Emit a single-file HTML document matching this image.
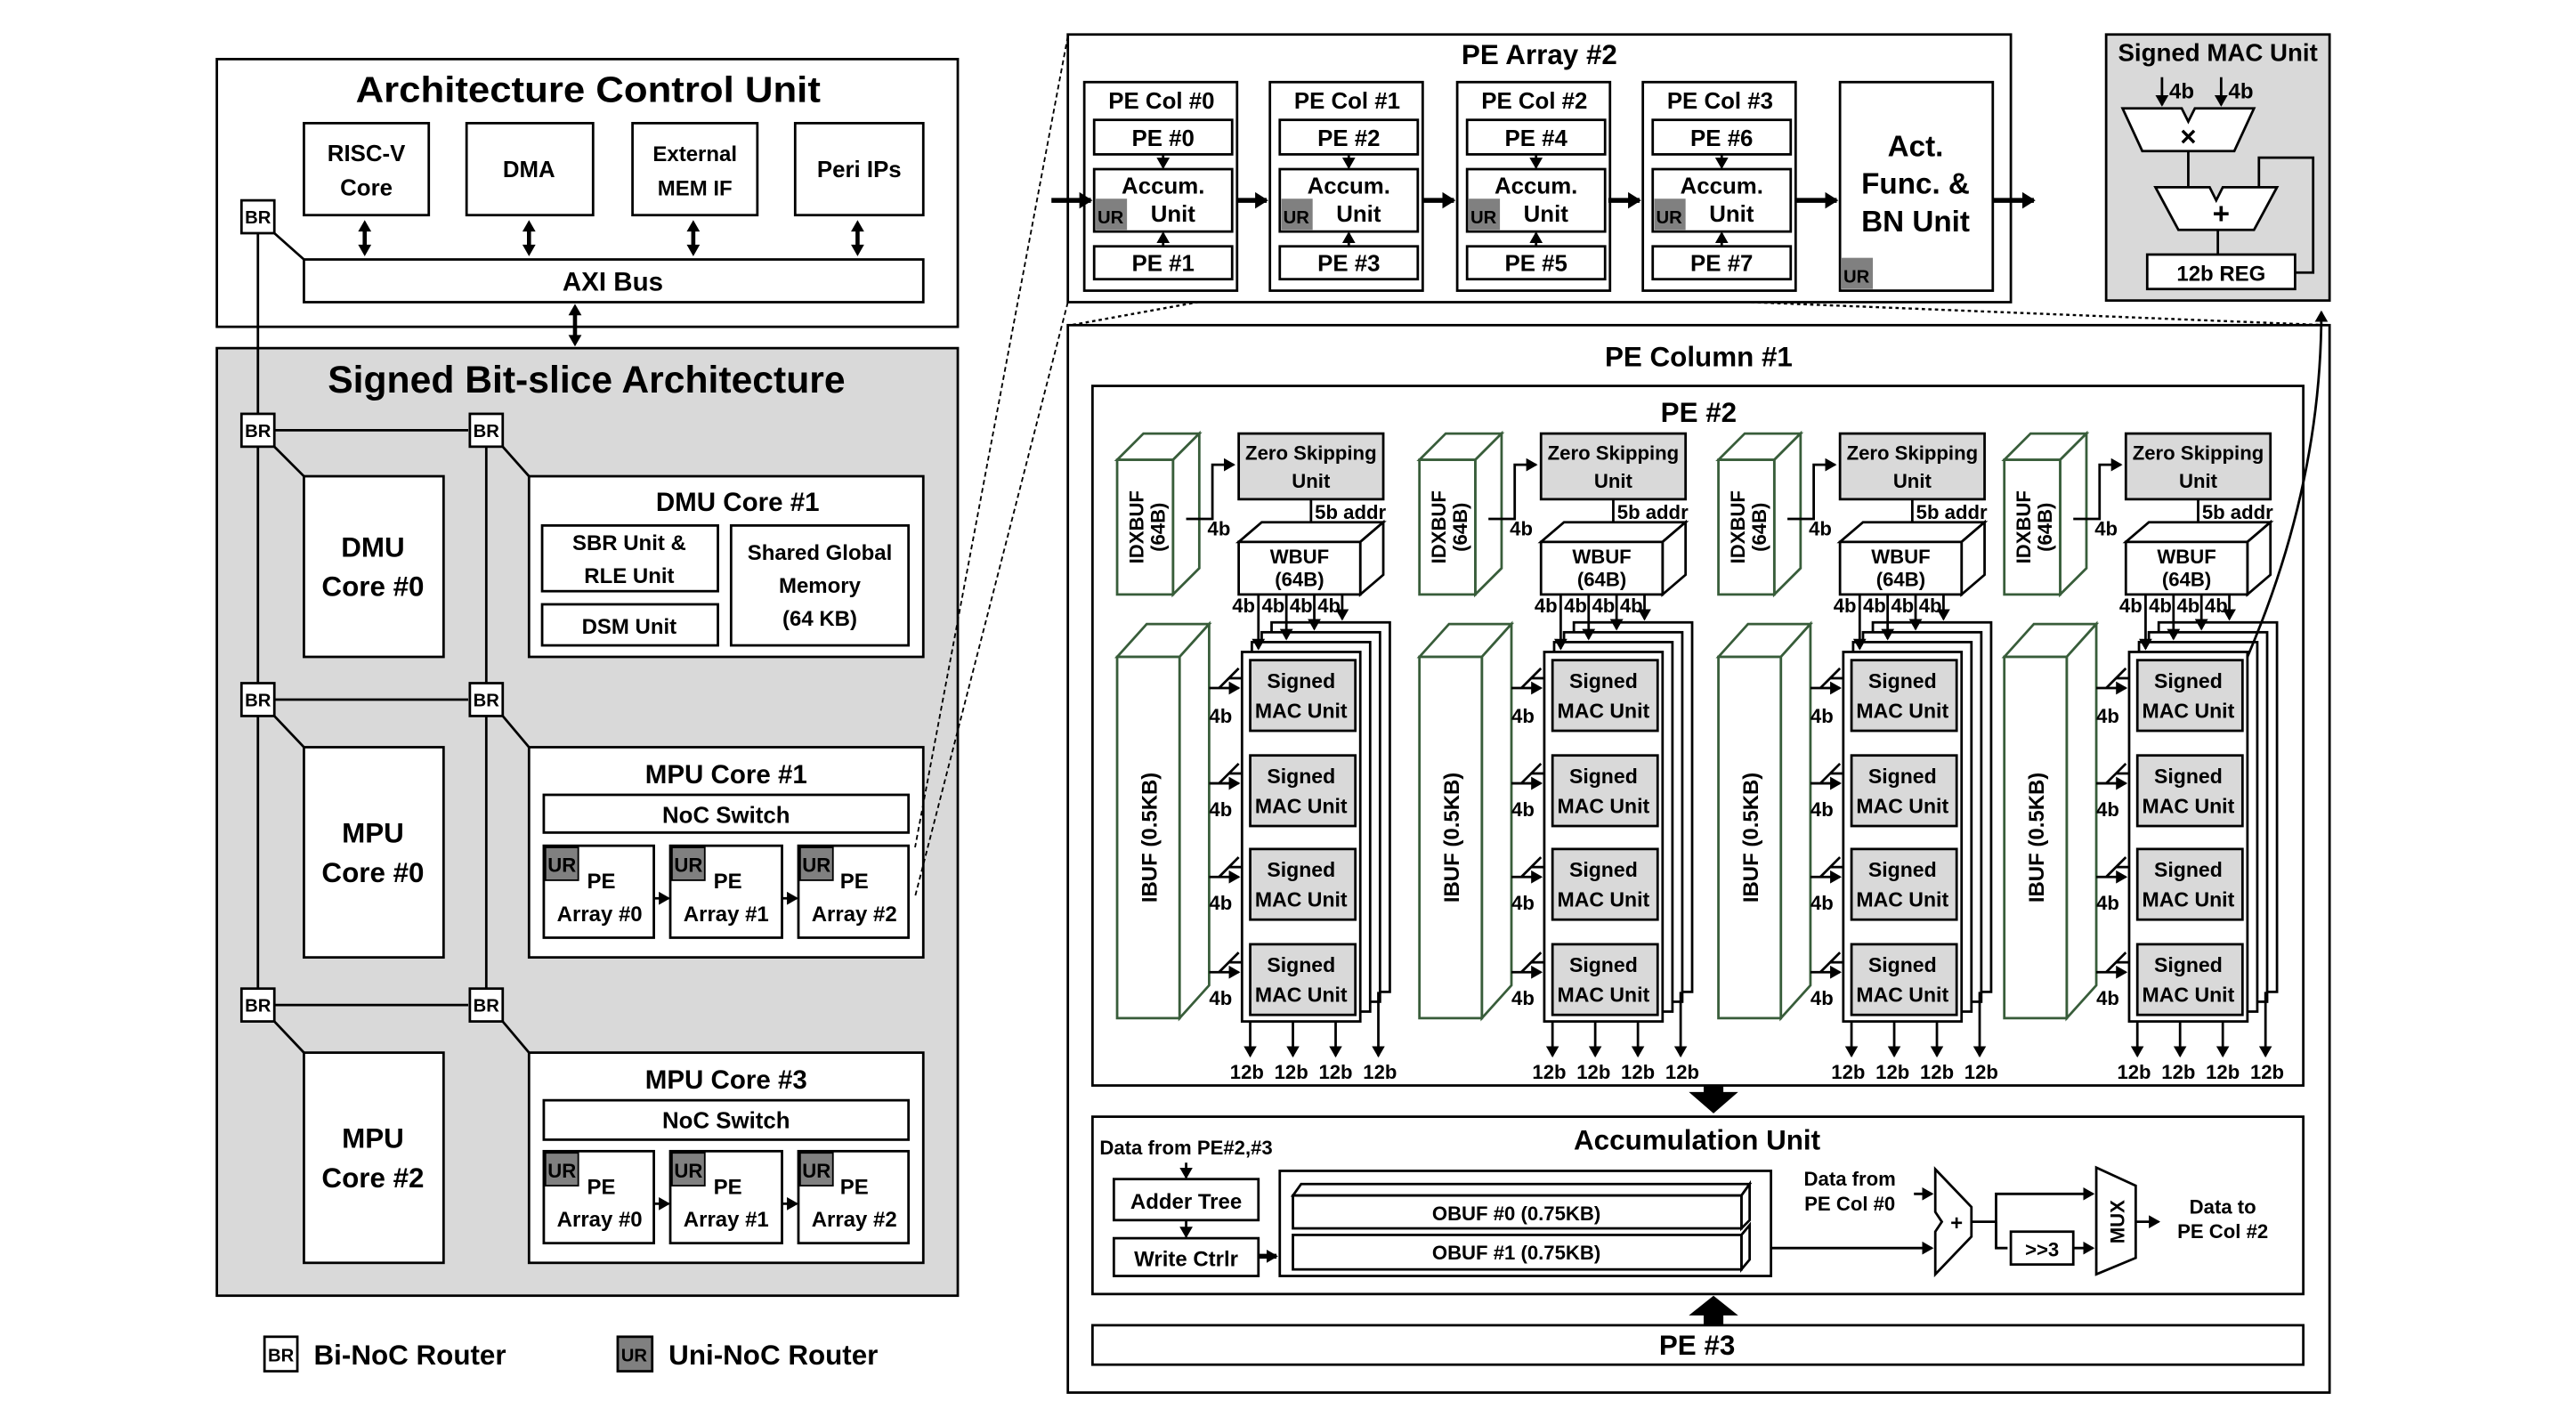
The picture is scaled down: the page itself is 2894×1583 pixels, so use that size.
<!DOCTYPE html>
<html><head><meta charset="utf-8">
<style>
html,body{margin:0;padding:0;background:#fff;}
svg{display:block;}
text{font-family:"Liberation Sans",sans-serif;font-weight:bold;text-anchor:middle;fill:#000;}
.s{stroke:#000;stroke-width:1.5;fill:#fff;}
.g{stroke:#000;stroke-width:1.5;fill:#d9d9d9;}
.gr{stroke:#385d3a;stroke-width:1.5;fill:#fff;}
.l{stroke:#000;stroke-width:1.5;fill:none;}
.th{stroke:#000;stroke-width:3;fill:none;}
</style></head><body>
<svg width="2894" height="1583" viewBox="0 0 1568 858" preserveAspectRatio="none" xmlns="http://www.w3.org/2000/svg">
<defs>
<marker id="a" markerWidth="8" markerHeight="8" refX="6" refY="4" orient="auto" markerUnits="userSpaceOnUse"><path d="M0,0 L7,4 L0,8 z" fill="#000"/></marker>
<marker id="ab" markerWidth="10" markerHeight="10" refX="7" refY="5" orient="auto-start-reverse" markerUnits="userSpaceOnUse"><path d="M0,0 L8,5 L0,10 z" fill="#000"/></marker>
</defs>
<rect width="1568" height="858" fill="#fff"/>

<!-- ACU -->
<rect x="132" y="36" width="451" height="163" class="s"/>
<text x="358" y="62" font-size="22" textLength="283" lengthAdjust="spacingAndGlyphs">Architecture Control Unit</text>
<rect x="185" y="75" width="76" height="56" class="s"/><text x="223" y="98" font-size="14">RISC-V</text><text x="223" y="119" font-size="14">Core</text>
<rect x="284" y="75" width="77" height="56" class="s"/><text x="322" y="108" font-size="14">DMA</text>
<rect x="385" y="75" width="76" height="56" class="s"/><text x="423" y="98" font-size="13">External</text><text x="423" y="119" font-size="13">MEM IF</text>
<rect x="484" y="75" width="78" height="56" class="s"/><text x="523" y="108" font-size="14">Peri IPs</text>
<g fill="#000" stroke="#000" stroke-width="2.5">
<line x1="222" y1="140" x2="222" y2="150"/><path d="M218,141 L222,134 L226,141 z M218,149 L222,156 L226,149 z" stroke-width="0"/>
<line x1="322" y1="140" x2="322" y2="150"/><path d="M318,141 L322,134 L326,141 z M318,149 L322,156 L326,149 z" stroke-width="0"/>
<line x1="422" y1="140" x2="422" y2="150"/><path d="M418,141 L422,134 L426,141 z M418,149 L422,156 L426,149 z" stroke-width="0"/>
<line x1="522" y1="140" x2="522" y2="150"/><path d="M518,141 L522,134 L526,141 z M518,149 L522,156 L526,149 z" stroke-width="0"/>
<line x1="350" y1="191" x2="350" y2="205"/><path d="M346,192 L350,185 L354,192 z M346,204 L350,211 L354,204 z" stroke-width="0"/>
</g>
<rect x="185" y="158" width="377" height="26" class="s"/><text x="373" y="177" font-size="16">AXI Bus</text>

<!-- SBA -->
<rect x="132" y="212" width="451" height="577" class="g"/>
<text x="357" y="239" font-size="23" textLength="315" lengthAdjust="spacingAndGlyphs">Signed Bit-slice Architecture</text>
<g class="l">
<line x1="157" y1="142" x2="157" y2="602"/>
<line x1="296" y1="272" x2="296" y2="602"/>
<line x1="167" y1="262" x2="285" y2="262"/>
<line x1="167" y1="426" x2="285" y2="426"/>
<line x1="167" y1="612" x2="285" y2="612"/>
<line x1="167" y1="142" x2="185" y2="158"/>
<line x1="167" y1="272" x2="185" y2="290"/>
<line x1="306" y1="272" x2="322" y2="290"/>
<line x1="167" y1="436" x2="185" y2="455"/>
<line x1="306" y1="436" x2="322" y2="455"/>
<line x1="167" y1="622" x2="185" y2="641"/>
<line x1="306" y1="622" x2="322" y2="641"/>
</g>
<g font-size="11">
<rect x="147" y="122" width="20" height="20" class="s"/><text x="157" y="136">BR</text>
<rect x="147" y="252" width="20" height="20" class="s"/><text x="157" y="266">BR</text>
<rect x="286" y="252" width="20" height="20" class="s"/><text x="296" y="266">BR</text>
<rect x="147" y="416" width="20" height="20" class="s"/><text x="157" y="430">BR</text>
<rect x="286" y="416" width="20" height="20" class="s"/><text x="296" y="430">BR</text>
<rect x="147" y="602" width="20" height="20" class="s"/><text x="157" y="616">BR</text>
<rect x="286" y="602" width="20" height="20" class="s"/><text x="296" y="616">BR</text>
</g>
<rect x="185" y="290" width="85" height="110" class="s"/><text x="227" y="339" font-size="17">DMU</text><text x="227" y="363" font-size="17">Core #0</text>
<rect x="185" y="455" width="85" height="128" class="s"/><text x="227" y="513" font-size="17">MPU</text><text x="227" y="537" font-size="17">Core #0</text>
<rect x="185" y="641" width="85" height="128" class="s"/><text x="227" y="699" font-size="17">MPU</text><text x="227" y="723" font-size="17">Core #2</text>

<rect x="322" y="290" width="240" height="110" class="s"/><text x="449" y="311" font-size="16">DMU Core #1</text>
<rect x="330" y="320" width="107" height="40" class="s"/><text x="383" y="335" font-size="13">SBR Unit &amp;</text><text x="383" y="355" font-size="13">RLE Unit</text>
<rect x="330" y="368" width="107" height="25" class="s"/><text x="383" y="386" font-size="13">DSM Unit</text>
<rect x="445" y="320" width="108" height="73" class="s"/><text x="499" y="341" font-size="13">Shared Global</text><text x="499" y="361" font-size="13">Memory</text><text x="499" y="381" font-size="13">(64 KB)</text>

<rect x="322" y="455" width="240" height="128" class="s"/><text x="442" y="477" font-size="16">MPU Core #1</text>
<rect x="331" y="484" width="222" height="23" class="s"/><text x="442" y="501" font-size="14">NoC Switch</text>
<rect x="322" y="641" width="240" height="128" class="s"/><text x="442" y="663" font-size="16">MPU Core #3</text>
<rect x="331" y="670" width="222" height="24" class="s"/><text x="442" y="687" font-size="14">NoC Switch</text>

<g id="pea">
<rect x="331" y="515" width="67" height="56" class="s"/><rect x="332" y="516" width="20" height="20" fill="#808080" stroke="#000"/><text x="342" y="531" font-size="12">UR</text>
<text x="366" y="541" font-size="13">PE</text><text x="365" y="561" font-size="13">Array #0</text>
<rect x="408" y="515" width="68" height="56" class="s"/><rect x="409" y="516" width="20" height="20" fill="#808080" stroke="#000"/><text x="419" y="531" font-size="12">UR</text>
<text x="443" y="541" font-size="13">PE</text><text x="442" y="561" font-size="13">Array #1</text>
<rect x="486" y="515" width="67" height="56" class="s"/><rect x="487" y="516" width="20" height="20" fill="#808080" stroke="#000"/><text x="497" y="531" font-size="12">UR</text>
<text x="520" y="541" font-size="13">PE</text><text x="520" y="561" font-size="13">Array #2</text>
<line x1="398" y1="547" x2="407" y2="547" class="l" marker-end="url(#a)"/>
<line x1="476" y1="547" x2="485" y2="547" class="l" marker-end="url(#a)"/>
</g>
<g transform="translate(0,186)">
<rect x="331" y="515" width="67" height="56" class="s"/><rect x="332" y="516" width="20" height="20" fill="#808080" stroke="#000"/><text x="342" y="531" font-size="12">UR</text>
<text x="366" y="541" font-size="13">PE</text><text x="365" y="561" font-size="13">Array #0</text>
<rect x="408" y="515" width="68" height="56" class="s"/><rect x="409" y="516" width="20" height="20" fill="#808080" stroke="#000"/><text x="419" y="531" font-size="12">UR</text>
<text x="443" y="541" font-size="13">PE</text><text x="442" y="561" font-size="13">Array #1</text>
<rect x="486" y="515" width="67" height="56" class="s"/><rect x="487" y="516" width="20" height="20" fill="#808080" stroke="#000"/><text x="497" y="531" font-size="12">UR</text>
<text x="520" y="541" font-size="13">PE</text><text x="520" y="561" font-size="13">Array #2</text>
<line x1="398" y1="547" x2="407" y2="547" class="l" marker-end="url(#a)"/>
<line x1="476" y1="547" x2="485" y2="547" class="l" marker-end="url(#a)"/>
</g>

<!-- Legend -->
<rect x="161" y="814" width="20" height="21" class="s"/><text x="171" y="829" font-size="11">BR</text>
<text x="191" y="831" font-size="17" style="text-anchor:start">Bi-NoC Router</text>
<rect x="376" y="814" width="21" height="21" fill="#808080" stroke="#000" stroke-width="1.5"/><text x="386" y="829" font-size="11">UR</text>
<text x="407" y="831" font-size="17" style="text-anchor:start">Uni-NoC Router</text>

<!-- dashed zoom lines -->
<g stroke="#000" stroke-width="1" stroke-dasharray="3,2" fill="none">
<line x1="650" y1="22" x2="557" y2="516"/>
<line x1="650" y1="184" x2="557" y2="546"/>
</g>
<g stroke="#000" stroke-width="1.3" stroke-dasharray="2,2" fill="none">
<line x1="773" y1="176" x2="652" y2="198"/>
<line x1="866" y1="176" x2="1416" y2="198"/>
</g>

<!-- PE Array #2 -->
<rect x="650" y="21" width="574" height="163" class="s"/>
<text x="937" y="39" font-size="17">PE Array #2</text>
<g>
<rect x="660" y="50" width="93" height="127" class="s"/>
<text x="707" y="66" font-size="14">PE Col #0</text>
<rect x="666" y="73" width="84" height="21" class="s"/><text x="708" y="89" font-size="14">PE #0</text>
<rect x="666" y="103" width="84" height="38" class="s"/><text x="708" y="118" font-size="14">Accum.</text>
<rect x="667" y="121" width="19" height="19" fill="#808080"/><text x="676" y="136" font-size="11">UR</text><text x="714" y="135" font-size="14">Unit</text>
<rect x="666" y="150" width="84" height="20" class="s"/><text x="708" y="165" font-size="14">PE #1</text>
<line x1="708" y1="94" x2="708" y2="102" class="l" marker-end="url(#a)"/>
<line x1="708" y1="150" x2="708" y2="142" class="l" marker-end="url(#a)"/>
</g>
<g transform="translate(113,0)">
<rect x="660" y="50" width="93" height="127" class="s"/>
<text x="707" y="66" font-size="14">PE Col #1</text>
<rect x="666" y="73" width="84" height="21" class="s"/><text x="708" y="89" font-size="14">PE #2</text>
<rect x="666" y="103" width="84" height="38" class="s"/><text x="708" y="118" font-size="14">Accum.</text>
<rect x="667" y="121" width="19" height="19" fill="#808080"/><text x="676" y="136" font-size="11">UR</text><text x="714" y="135" font-size="14">Unit</text>
<rect x="666" y="150" width="84" height="20" class="s"/><text x="708" y="165" font-size="14">PE #3</text>
<line x1="708" y1="94" x2="708" y2="102" class="l" marker-end="url(#a)"/>
<line x1="708" y1="150" x2="708" y2="142" class="l" marker-end="url(#a)"/>
</g>
<g transform="translate(227,0)">
<rect x="660" y="50" width="93" height="127" class="s"/>
<text x="707" y="66" font-size="14">PE Col #2</text>
<rect x="666" y="73" width="84" height="21" class="s"/><text x="708" y="89" font-size="14">PE #4</text>
<rect x="666" y="103" width="84" height="38" class="s"/><text x="708" y="118" font-size="14">Accum.</text>
<rect x="667" y="121" width="19" height="19" fill="#808080"/><text x="676" y="136" font-size="11">UR</text><text x="714" y="135" font-size="14">Unit</text>
<rect x="666" y="150" width="84" height="20" class="s"/><text x="708" y="165" font-size="14">PE #5</text>
<line x1="708" y1="94" x2="708" y2="102" class="l" marker-end="url(#a)"/>
<line x1="708" y1="150" x2="708" y2="142" class="l" marker-end="url(#a)"/>
</g>
<g transform="translate(340,0)">
<rect x="660" y="50" width="93" height="127" class="s"/>
<text x="707" y="66" font-size="14">PE Col #3</text>
<rect x="666" y="73" width="84" height="21" class="s"/><text x="708" y="89" font-size="14">PE #6</text>
<rect x="666" y="103" width="84" height="38" class="s"/><text x="708" y="118" font-size="14">Accum.</text>
<rect x="667" y="121" width="19" height="19" fill="#808080"/><text x="676" y="136" font-size="11">UR</text><text x="714" y="135" font-size="14">Unit</text>
<rect x="666" y="150" width="84" height="20" class="s"/><text x="708" y="165" font-size="14">PE #7</text>
<line x1="708" y1="94" x2="708" y2="102" class="l" marker-end="url(#a)"/>
<line x1="708" y1="150" x2="708" y2="142" class="l" marker-end="url(#a)"/>
</g>
<rect x="1120" y="50" width="93" height="127" class="s"/>
<text x="1166" y="95" font-size="18">Act.</text><text x="1166" y="118" font-size="18">Func. &amp;</text><text x="1166" y="141" font-size="18">BN Unit</text>
<rect x="1121" y="157" width="19" height="19" fill="#808080"/><text x="1130" y="172" font-size="11">UR</text>
<g class="th">
<line x1="640" y1="122" x2="664" y2="122" marker-end="url(#ab)"/>
<line x1="753" y1="122" x2="771" y2="122" marker-end="url(#ab)"/>
<line x1="866" y1="122" x2="885" y2="122" marker-end="url(#ab)"/>
<line x1="979" y1="122" x2="998" y2="122" marker-end="url(#ab)"/>
<line x1="1093" y1="122" x2="1118" y2="122" marker-end="url(#ab)"/>
<line x1="1213" y1="122" x2="1238" y2="122" marker-end="url(#ab)"/>
</g>

<!-- Signed MAC Unit -->
<rect x="1282" y="21" width="136" height="162" class="g"/>
<text x="1350" y="37" font-size="15">Signed MAC Unit</text>
<line x1="1316" y1="47" x2="1316" y2="64" class="l" marker-end="url(#a)"/><text x="1328" y="60" font-size="13">4b</text>
<line x1="1352" y1="47" x2="1352" y2="64" class="l" marker-end="url(#a)"/><text x="1364" y="60" font-size="13">4b</text>
<polygon points="1292,66 1328,66 1332,74 1336,66 1372,66 1360,92 1304,92" class="s"/>
<text x="1332" y="89" font-size="17">×</text>
<line x1="1332" y1="92" x2="1332" y2="114" class="l"/>
<polygon points="1312,114 1345,114 1349,122 1353,114 1386,114 1372,140 1326,140" class="s"/>
<text x="1352" y="136" font-size="18">+</text>
<line x1="1350" y1="140" x2="1350" y2="155" class="l"/>
<rect x="1307" y="155" width="90" height="21" class="s"/><text x="1352" y="171" font-size="13">12b REG</text>
<polyline points="1397,166 1408,166 1408,96 1375,96 1375,114" class="l" stroke-width="2"/>

<!-- PE Column #1 -->
<rect x="650" y="198" width="768" height="650" class="s"/>
<text x="1034" y="223" font-size="17">PE Column #1</text>
<rect x="665" y="235" width="737" height="426" class="s"/>
<text x="1034" y="257" font-size="17">PE #2</text>

<g id="grp">
<polygon points="680,280 696,264 730,264 714,280" class="gr"/>
<polygon points="714,280 730,264 730,346 714,362" class="gr"/>
<rect x="680" y="280" width="34" height="82" class="gr"/>
<text transform="translate(696,321) rotate(-90)" font-size="12">IDXBUF</text>
<text transform="translate(709,321) rotate(-90)" font-size="12">(64B)</text>
<rect x="754" y="264" width="88" height="40" class="g"/>
<text x="798" y="280" font-size="12">Zero Skipping</text><text x="798" y="297" font-size="12">Unit</text>
<polyline points="722,316 738,316 738,283 751,283" class="l" marker-end="url(#a)"/>
<text x="742" y="326" font-size="12">4b</text>
<line x1="798" y1="304" x2="798" y2="324" class="l" marker-end="url(#a)"/>
<text x="822" y="316" font-size="12">5b addr</text>
<polygon points="754,330 768,318 842,318 828,330" class="s"/>
<polygon points="828,330 842,318 842,350 828,362" class="s"/>
<rect x="754" y="330" width="74" height="32" class="s"/>
<text x="791" y="343" font-size="12">WBUF</text><text x="791" y="357" font-size="12">(64B)</text>
<text x="757" y="373" font-size="12">4b</text><text x="775" y="373" font-size="12">4b</text><text x="792" y="373" font-size="12">4b</text><text x="809" y="373" font-size="12">4b</text>
<polygon points="680,400 698,380 736,380 718,400" class="gr"/>
<polygon points="718,400 736,380 736,600 718,620" class="gr"/>
<rect x="680" y="400" width="38" height="220" class="gr"/>
<text transform="translate(704,510) rotate(-90)" font-size="13">IBUF (0.5KB)</text>
<rect x="774" y="379" width="72" height="225" class="s"/>
<rect x="768" y="385" width="72" height="225" class="s"/>
<rect x="762" y="391" width="72" height="225" class="s"/>
<rect x="756" y="397" width="72" height="225" class="s"/>
<g class="l">
<line x1="766" y1="362" x2="766" y2="395" marker-end="url(#a)"/>
<line x1="783" y1="362" x2="783" y2="389" marker-end="url(#a)"/>
<line x1="800" y1="362" x2="800" y2="383" marker-end="url(#a)"/>
<line x1="817" y1="362" x2="817" y2="377" marker-end="url(#a)"/>
</g>
<rect x="761" y="402" width="64" height="43" class="g"/><text x="792" y="419" font-size="12.5">Signed</text><text x="792" y="437" font-size="12.5">MAC Unit</text>
<rect x="761" y="460" width="64" height="43" class="g"/><text x="792" y="477" font-size="12.5">Signed</text><text x="792" y="495" font-size="12.5">MAC Unit</text>
<rect x="761" y="517" width="64" height="43" class="g"/><text x="792" y="534" font-size="12.5">Signed</text><text x="792" y="552" font-size="12.5">MAC Unit</text>
<rect x="761" y="575" width="64" height="43" class="g"/><text x="792" y="592" font-size="12.5">Signed</text><text x="792" y="610" font-size="12.5">MAC Unit</text>
<g class="l" stroke-width="2">
<line x1="736" y1="419" x2="754" y2="419" marker-end="url(#a)"/><polyline points="742,419 754,407" /><line x1="748" y1="413" x2="756" y2="413"/>
<line x1="736" y1="477" x2="754" y2="477" marker-end="url(#a)"/><polyline points="742,477 754,465" /><line x1="748" y1="471" x2="756" y2="471"/>
<line x1="736" y1="534" x2="754" y2="534" marker-end="url(#a)"/><polyline points="742,534 754,522" /><line x1="748" y1="528" x2="756" y2="528"/>
<line x1="736" y1="592" x2="754" y2="592" marker-end="url(#a)"/><polyline points="742,592 754,580" /><line x1="748" y1="586" x2="756" y2="586"/>
<line x1="761" y1="622" x2="761" y2="643" marker-end="url(#a)"/>
<line x1="787" y1="622" x2="787" y2="643" marker-end="url(#a)"/>
<line x1="813" y1="622" x2="813" y2="643" marker-end="url(#a)"/>
<line x1="839" y1="604" x2="839" y2="643" marker-end="url(#a)"/>
</g>
<text x="743" y="440" font-size="12">4b</text><text x="743" y="497" font-size="12">4b</text><text x="743" y="554" font-size="12">4b</text><text x="743" y="612" font-size="12">4b</text>
<text x="759" y="657" font-size="12">12b</text><text x="786" y="657" font-size="12">12b</text><text x="813" y="657" font-size="12">12b</text><text x="840" y="657" font-size="12">12b</text>
</g>
<use href="#grp" transform="translate(184,0)"/>
<use href="#grp" transform="translate(366,0)"/>
<use href="#grp" transform="translate(540,0)"/>

<path d="M1368 400 C1398 330, 1413 260, 1413 190" class="l" stroke-width="2" marker-end="url(#a)"/>

<!-- big arrows -->
<rect x="1037" y="661" width="12" height="5" fill="#000"/><polygon points="1028,665 1058,665 1043,678" fill="#000"/>
<rect x="1037" y="798" width="12" height="9" fill="#000"/><polygon points="1028,801 1058,801 1043,789" fill="#000"/>

<!-- Accumulation unit -->
<rect x="665" y="680" width="737" height="108" class="s"/>
<text x="1033" y="700" font-size="17">Accumulation Unit</text>
<text x="722" y="703" font-size="12">Data from PE#2,#3</text>
<line x1="722" y1="708" x2="722" y2="717" class="l" marker-end="url(#a)"/>
<rect x="678" y="718" width="88" height="25" class="s"/><text x="722" y="736" font-size="13">Adder Tree</text>
<line x1="722" y1="743" x2="722" y2="753" class="l" marker-end="url(#a)"/>
<rect x="678" y="754" width="88" height="23" class="s"/><text x="722" y="771" font-size="13">Write Ctrlr</text>
<line x1="766" y1="765" x2="777" y2="765" class="th" marker-end="url(#a)"/>
<rect x="779" y="713" width="299" height="64" class="s"/>
<polygon points="787,728 792,721 1065,721 1060,728" class="s"/><polygon points="1060,728 1065,721 1065,743 1060,748" class="s"/>
<rect x="787" y="728" width="273" height="20" class="s"/><text x="923" y="743" font-size="12">OBUF #0 (0.75KB)</text>
<polygon points="1060,752 1065,746 1065,767 1060,773" class="s"/>
<rect x="787" y="752" width="273" height="21" class="s"/><text x="923" y="767" font-size="12">OBUF #1 (0.75KB)</text>
<line x1="1078" y1="760" x2="1176" y2="760" class="l" stroke-width="2" marker-end="url(#a)"/>
<text x="1126" y="722" font-size="12">Data from</text><text x="1126" y="737" font-size="12">PE Col #0</text>
<line x1="1165" y1="727" x2="1176" y2="727" class="l" stroke-width="2" marker-end="url(#a)"/>
<polygon points="1178,712 1200,735 1200,753 1178,776 1178,750 1182,744 1178,738" class="s"/>
<text x="1191" y="749" font-size="13">+</text>
<polyline points="1200,744 1215,744" class="l" stroke-width="2"/>
<polyline points="1215,760 1215,727 1274,727" class="l" stroke-width="2.5" marker-end="url(#a)"/>
<polyline points="1215,744 1215,760 1222,760" class="l" stroke-width="2"/>
<rect x="1224" y="750" width="38" height="20" class="s"/><text x="1243" y="765" font-size="12">&gt;&gt;3</text>
<line x1="1262" y1="760" x2="1274" y2="760" class="l" stroke-width="2" marker-end="url(#a)"/>
<polygon points="1276,711 1300,722 1300,766 1276,776" class="s"/>
<text transform="translate(1293,744) rotate(-90)" font-size="12">MUX</text>
<line x1="1300" y1="744" x2="1314" y2="744" class="l" stroke-width="2" marker-end="url(#a)"/>
<text x="1353" y="739" font-size="12">Data to</text><text x="1353" y="754" font-size="12">PE Col #2</text>

<rect x="665" y="807" width="737" height="24" class="s"/>
<text x="1033" y="825" font-size="17">PE #3</text>
</svg>
</body></html>
